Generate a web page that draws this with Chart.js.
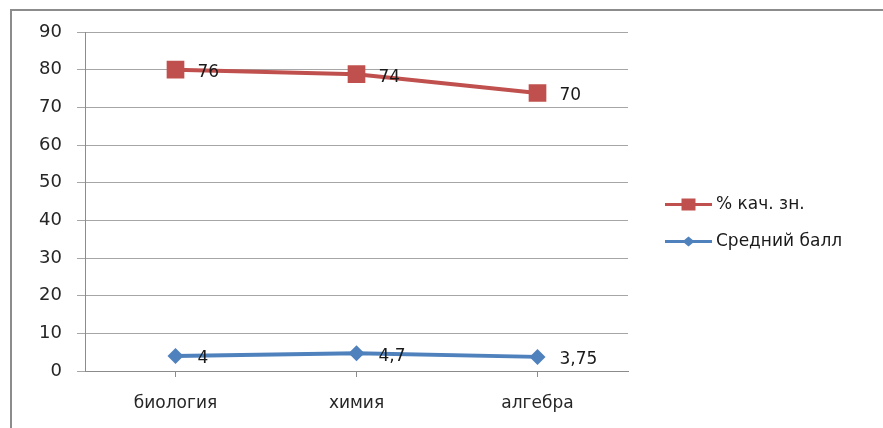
<!DOCTYPE html>
<html lang="ru">
  <head>
    <meta charset="UTF-8" />
    <title>Качество знаний</title>
    <script src="https://cdn.jsdelivr.net/npm/chart.js"></script>
    <style>
      html, body {
        margin: 0;
        padding: 0;
        background: #fff;
        overflow: hidden;
      }
      .wrap {
        position: relative;
        width: 883px;
        height: 428px;
        overflow: hidden;
      }
      .frame {
        position: absolute;
        left: 10px;
        top: 9px;
        width: 2000px;
        height: 1000px;
        border: 2px solid #8c8c8c;
      }
      canvas {
        position: absolute;
        left: 0;
        top: 0;
      }
    </style>
  </head>
  <body>
    <div class="wrap">
      <div class="frame"></div>
      <canvas id="chart" width="883" height="428"></canvas>
    </div>

    <script>
      const subjects = ["биология", "химия", "алгебра"];
      const qualityValues = [80, 78.8, 73.8];
      const qualityLabels = ["76", "74", "70"];
      const avgValues = [4, 4.7, 3.75];
      const avgLabels = ["4", "4,7", "3,75"];
      const yTicks = [0, 10, 20, 30, 40, 50, 60, 70, 80, 90];

      const FONT = "'DejaVu Sans', sans-serif";

      // labels next to each point + legend on the right
      const labelPlugin = {
        id: "pointLabels",
        afterDatasetsDraw(chart) {
          const ctx = chart.ctx;
          ctx.save();
          ctx.font = "17px " + FONT;
          ctx.fillStyle = "#1a1a1a";
          ctx.textAlign = "left";
          ctx.textBaseline = "middle";
          chart.data.datasets.forEach((ds, i) => {
            const meta = chart.getDatasetMeta(i);
            meta.data.forEach((pt, j) => {
              ctx.fillText(ds.pointText[j], pt.x + 22, pt.y + 3);
            });
          });
          ctx.restore();
        },
        afterDraw(chart) {
          const ctx = chart.ctx;
          const area = chart.chartArea;
          const x0 = area.right + 37;
          const x1 = x0 + 47;
          const mid = (area.top + area.bottom) / 2;
          ctx.save();
          ctx.font = "17px " + FONT;
          ctx.textBaseline = "middle";
          chart.data.datasets.forEach((ds, i) => {
            const y = mid + 3 + i * 37;
            ctx.strokeStyle = ds.borderColor;
            ctx.lineWidth = 3;
            ctx.beginPath();
            ctx.moveTo(x0, y);
            ctx.lineTo(x1, y);
            ctx.stroke();
            ctx.fillStyle = ds.borderColor;
            const cx = (x0 + x1) / 2;
            if (ds.pointStyle === "rect") {
              ctx.fillRect(cx - 7, y - 6, 14, 12);
            } else {
              ctx.beginPath();
              ctx.moveTo(cx - 6, y);
              ctx.lineTo(cx, y - 5);
              ctx.lineTo(cx + 6, y);
              ctx.lineTo(cx, y + 5);
              ctx.closePath();
              ctx.fill();
            }
            ctx.fillStyle = "#1a1a1a";
            ctx.fillText(ds.label, x1 + 4, y);
          });
          ctx.restore();
        },
      };

      new Chart(document.getElementById("chart"), {
        type: "line",
        data: {
          labels: subjects,
          datasets: [
            {
              label: "% кач. зн.",
              data: qualityValues,
              pointText: qualityLabels,
              borderColor: "#c0504d",
              backgroundColor: "#c0504d",
              borderWidth: 4,
              pointStyle: "rect",
              pointRadius: 12.5,
              pointHoverRadius: 12.5,
              pointBorderWidth: 0,
              tension: 0,
            },
            {
              label: "Средний балл",
              data: avgValues,
              pointText: avgLabels,
              borderColor: "#4f81bd",
              backgroundColor: "#4f81bd",
              borderWidth: 4,
              pointStyle: "rectRot",
              pointRadius: 8,
              pointHoverRadius: 8,
              pointBorderWidth: 0,
              tension: 0,
            },
          ],
        },
        options: {
          responsive: false,
          animation: false,
          devicePixelRatio: 1,
          layout: {
            padding: { top: 32, left: 0, right: 255, bottom: 0 },
          },
          plugins: {
            legend: { display: false },
            tooltip: { enabled: false },
          },
          scales: {
            x: {
              offset: true,
              grid: {
                drawOnChartArea: false,
                color: "#8c8c8c",
                tickLength: 6,
              },
              border: { color: "#8c8c8c" },
              ticks: {
                color: "#262626",
                font: { family: FONT, size: 17 },
                padding: 16,
              },
              afterFit: (s) => {
                s.height = 57;
              },
            },
            y: {
              min: 0,
              max: 90,
              afterBuildTicks: (s) => {
                s.ticks = yTicks.map((v) => ({ value: v }));
              },
              grid: {
                color: "#a6a6a6",
                tickLength: 8,
              },
              border: { color: "#8c8c8c" },
              ticks: {
                color: "#262626",
                font: { family: FONT, size: 18 },
                padding: 15,
              },
              afterFit: (s) => {
                s.width = 85;
              },
            },
          },
        },
        plugins: [labelPlugin],
      });
    </script>
  </body>
</html>
